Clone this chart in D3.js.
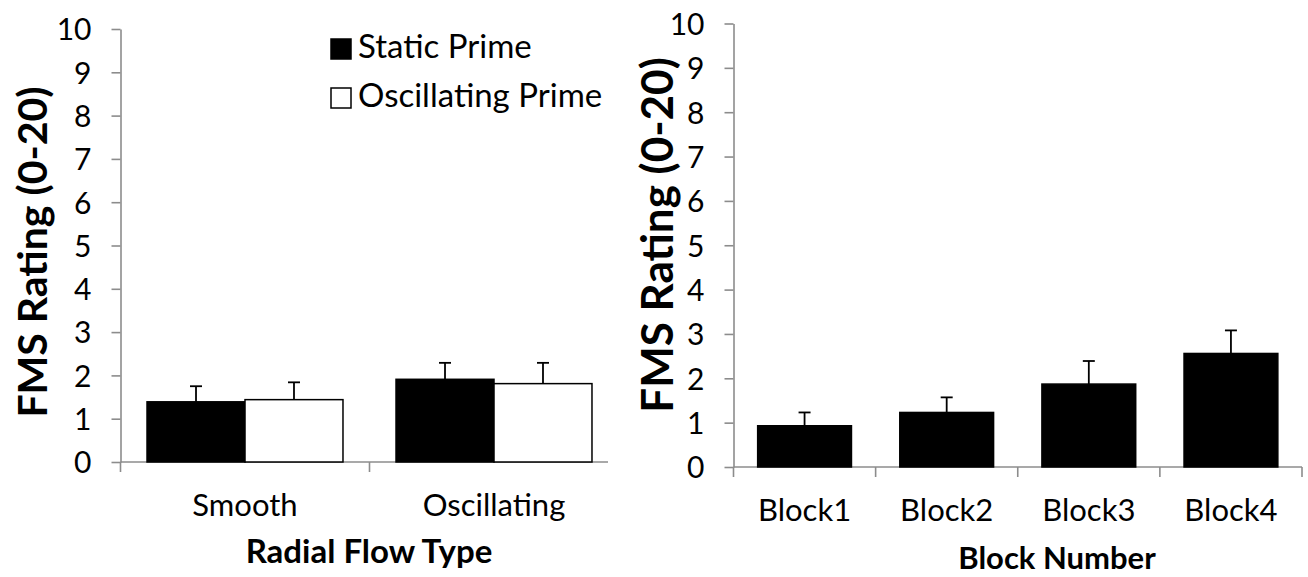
<!DOCTYPE html>
<html>
<head>
<meta charset="utf-8">
<script src="https://cdn.jsdelivr.net/npm/d3@7"></script>
<style>
  body { margin: 0; background: #fff; }
  svg text { font-family: Lato, "Liberation Sans", sans-serif; fill: #000; }
  .axis path, .axis line { stroke: #8c8c8c; stroke-width: 1.6px; }
  .axis text { font-size: 30px; }
  .cat { font-size: 31px; }
  .title { font-weight: bold; }
</style>
</head>
<body>
<script>
// left panel: rating by radial flow type and prime
const flowTypes = ['Smooth', 'Oscillating'];
const primes = ['Static Prime', 'Oscillating Prime'];
const staticMeans = [1.39, 1.91];
const staticSE = [0.36, 0.38];
const oscMeans = [1.44, 1.81];
const oscSE = [0.40, 0.48];

// right panel: rating by block
const blocks = ['Block1', 'Block2', 'Block3', 'Block4'];
const blockMeans = [0.93, 1.23, 1.87, 2.56];
const blockSE = [0.30, 0.34, 0.52, 0.52];

const yTicks = d3.range(0, 11);

const width = 1308;
const height = 577;

const svg = d3.select('body').append('svg')
  .attr('width', width)
  .attr('height', height);

const primeFill = d3.scaleOrdinal().domain(primes).range(['#000', '#fff']);

function errorBar(g, xc, yTop, yErr) {
  g.append('line')
    .attr('x1', xc).attr('x2', xc)
    .attr('y1', yTop).attr('y2', yErr)
    .attr('stroke', '#000').attr('stroke-width', 1.8);
  g.append('line')
    .attr('x1', xc - 6).attr('x2', xc + 6)
    .attr('y1', yErr).attr('y2', yErr)
    .attr('stroke', '#000').attr('stroke-width', 1.8);
}

function yAxis(g, y, x0) {
  g.append('g')
    .attr('class', 'axis')
    .attr('transform', `translate(${x0},0)`)
    .call(d3.axisLeft(y).tickValues(yTicks).tickSize(9).tickPadding(20).tickSizeOuter(0))
    .call(a => a.selectAll('text').attr('dy', '0.36em'));
}

// ---------- left chart ----------
{
  const x = d3.scaleBand().domain(flowTypes).range([120.5, 618.5]).paddingInner(0.213).paddingOuter(0.1065);
  const x1 = d3.scaleBand().domain(primes).range([0, x.bandwidth()]);
  const y = d3.scaleLinear().domain([0, 10]).range([462, 29]);

  const g = svg.append('g');

  // x axis line, cut short like the original
  g.append('line')
    .attr('x1', 120.5).attr('x2', 608)
    .attr('y1', y(0)).attr('y2', y(0))
    .attr('stroke', '#8c8c8c').attr('stroke-width', 1.6);
  const step = x.step();
  [0, 1].forEach(i => {
    g.append('line')
      .attr('x1', 120.5 + i * step).attr('x2', 120.5 + i * step)
      .attr('y1', y(0)).attr('y2', y(0) + 10)
      .attr('stroke', '#8c8c8c').attr('stroke-width', 1.6);
  });

  yAxis(g, y, 120.5);

  const rows = flowTypes.map((f, i) => ({
    flow: f,
    vals: [
      { prime: primes[0], mean: staticMeans[i], se: staticSE[i] },
      { prime: primes[1], mean: oscMeans[i], se: oscSE[i] }
    ]
  }));

  // error bars first, bars drawn over the lower half
  rows.forEach(r => {
    r.vals.forEach(v => {
      const xc = x(r.flow) + x1(v.prime) + x1.bandwidth() / 2;
      errorBar(g, xc, y(v.mean), y(v.mean + v.se));
    });
  });

  rows.forEach(r => {
    g.selectAll(null)
      .data(r.vals)
      .enter()
      .append('rect')
      .attr('x', d => x(r.flow) + x1(d.prime))
      .attr('y', d => y(d.mean))
      .attr('width', x1.bandwidth())
      .attr('height', d => y(0) - y(d.mean))
      .attr('fill', d => primeFill(d.prime))
      .attr('stroke', '#000')
      .attr('stroke-width', 1.5);
  });

  g.selectAll('.cat')
    .data(flowTypes)
    .enter()
    .append('text')
    .attr('class', 'cat')
    .attr('x', d => x(d) + x.bandwidth() / 2)
    .attr('y', 516)
    .attr('text-anchor', 'middle')
    .text(d => d);

  g.append('text')
    .attr('class', 'title')
    .attr('x', 369)
    .attr('y', 563)
    .attr('text-anchor', 'middle')
    .style('font-size', '33px')
    .text('Radial Flow Type');

  g.append('text')
    .attr('class', 'title')
    .attr('transform', 'translate(47,252) rotate(-90)')
    .attr('text-anchor', 'middle')
    .style('font-size', '41px')
    .text('FMS Rating (0-20)');

  // legend
  const leg = g.append('g').selectAll('g')
    .data(primes)
    .enter()
    .append('g')
    .attr('transform', (d, i) => `translate(331,${39 + i * 49})`);
  leg.append('rect')
    .attr('width', 20).attr('height', 20)
    .attr('fill', d => primeFill(d))
    .attr('stroke', '#000').attr('stroke-width', 1.5);
  leg.append('text')
    .attr('x', 27)
    .attr('y', 19)
    .style('font-size', '33px')
    .text(d => d);
}

// ---------- right chart ----------
{
  const x = d3.scaleBand().domain(blocks).range([733.5, 1302]).paddingInner(0.34).paddingOuter(0.17);
  const y = d3.scaleLinear().domain([0, 10]).range([467, 23.5]);

  const g = svg.append('g');

  g.append('line')
    .attr('x1', 733.5).attr('x2', 1302)
    .attr('y1', y(0)).attr('y2', y(0))
    .attr('stroke', '#8c8c8c').attr('stroke-width', 1.6);
  const step = x.step();
  d3.range(blocks.length + 1).forEach(i => {
    g.append('line')
      .attr('x1', 733.5 + i * step).attr('x2', 733.5 + i * step)
      .attr('y1', y(0)).attr('y2', y(0) + 10)
      .attr('stroke', '#8c8c8c').attr('stroke-width', 1.6);
  });

  yAxis(g, y, 733.5);

  blocks.forEach((b, i) => {
    errorBar(g, x(b) + x.bandwidth() / 2, y(blockMeans[i]), y(blockMeans[i] + blockSE[i]));
  });

  g.selectAll('.bar')
    .data(blocks)
    .enter()
    .append('rect')
    .attr('class', 'bar')
    .attr('x', d => x(d))
    .attr('y', (d, i) => y(blockMeans[i]))
    .attr('width', x.bandwidth())
    .attr('height', (d, i) => y(0) - y(blockMeans[i]))
    .attr('fill', '#000')
    .attr('stroke', '#000')
    .attr('stroke-width', 1.5);

  g.selectAll('.cat')
    .data(blocks)
    .enter()
    .append('text')
    .attr('class', 'cat')
    .attr('x', d => x(d) + x.bandwidth() / 2)
    .attr('y', 521)
    .attr('text-anchor', 'middle')
    .text(d => d);

  g.append('text')
    .attr('class', 'title')
    .attr('x', 1057)
    .attr('y', 569)
    .attr('text-anchor', 'middle')
    .style('font-size', '31px')
    .text('Block Number');

  g.append('text')
    .attr('class', 'title')
    .attr('transform', 'translate(673,235) rotate(-90)')
    .attr('text-anchor', 'middle')
    .style('font-size', '44px')
    .text('FMS Rating (0-20)');
}
</script>
</body>
</html>
